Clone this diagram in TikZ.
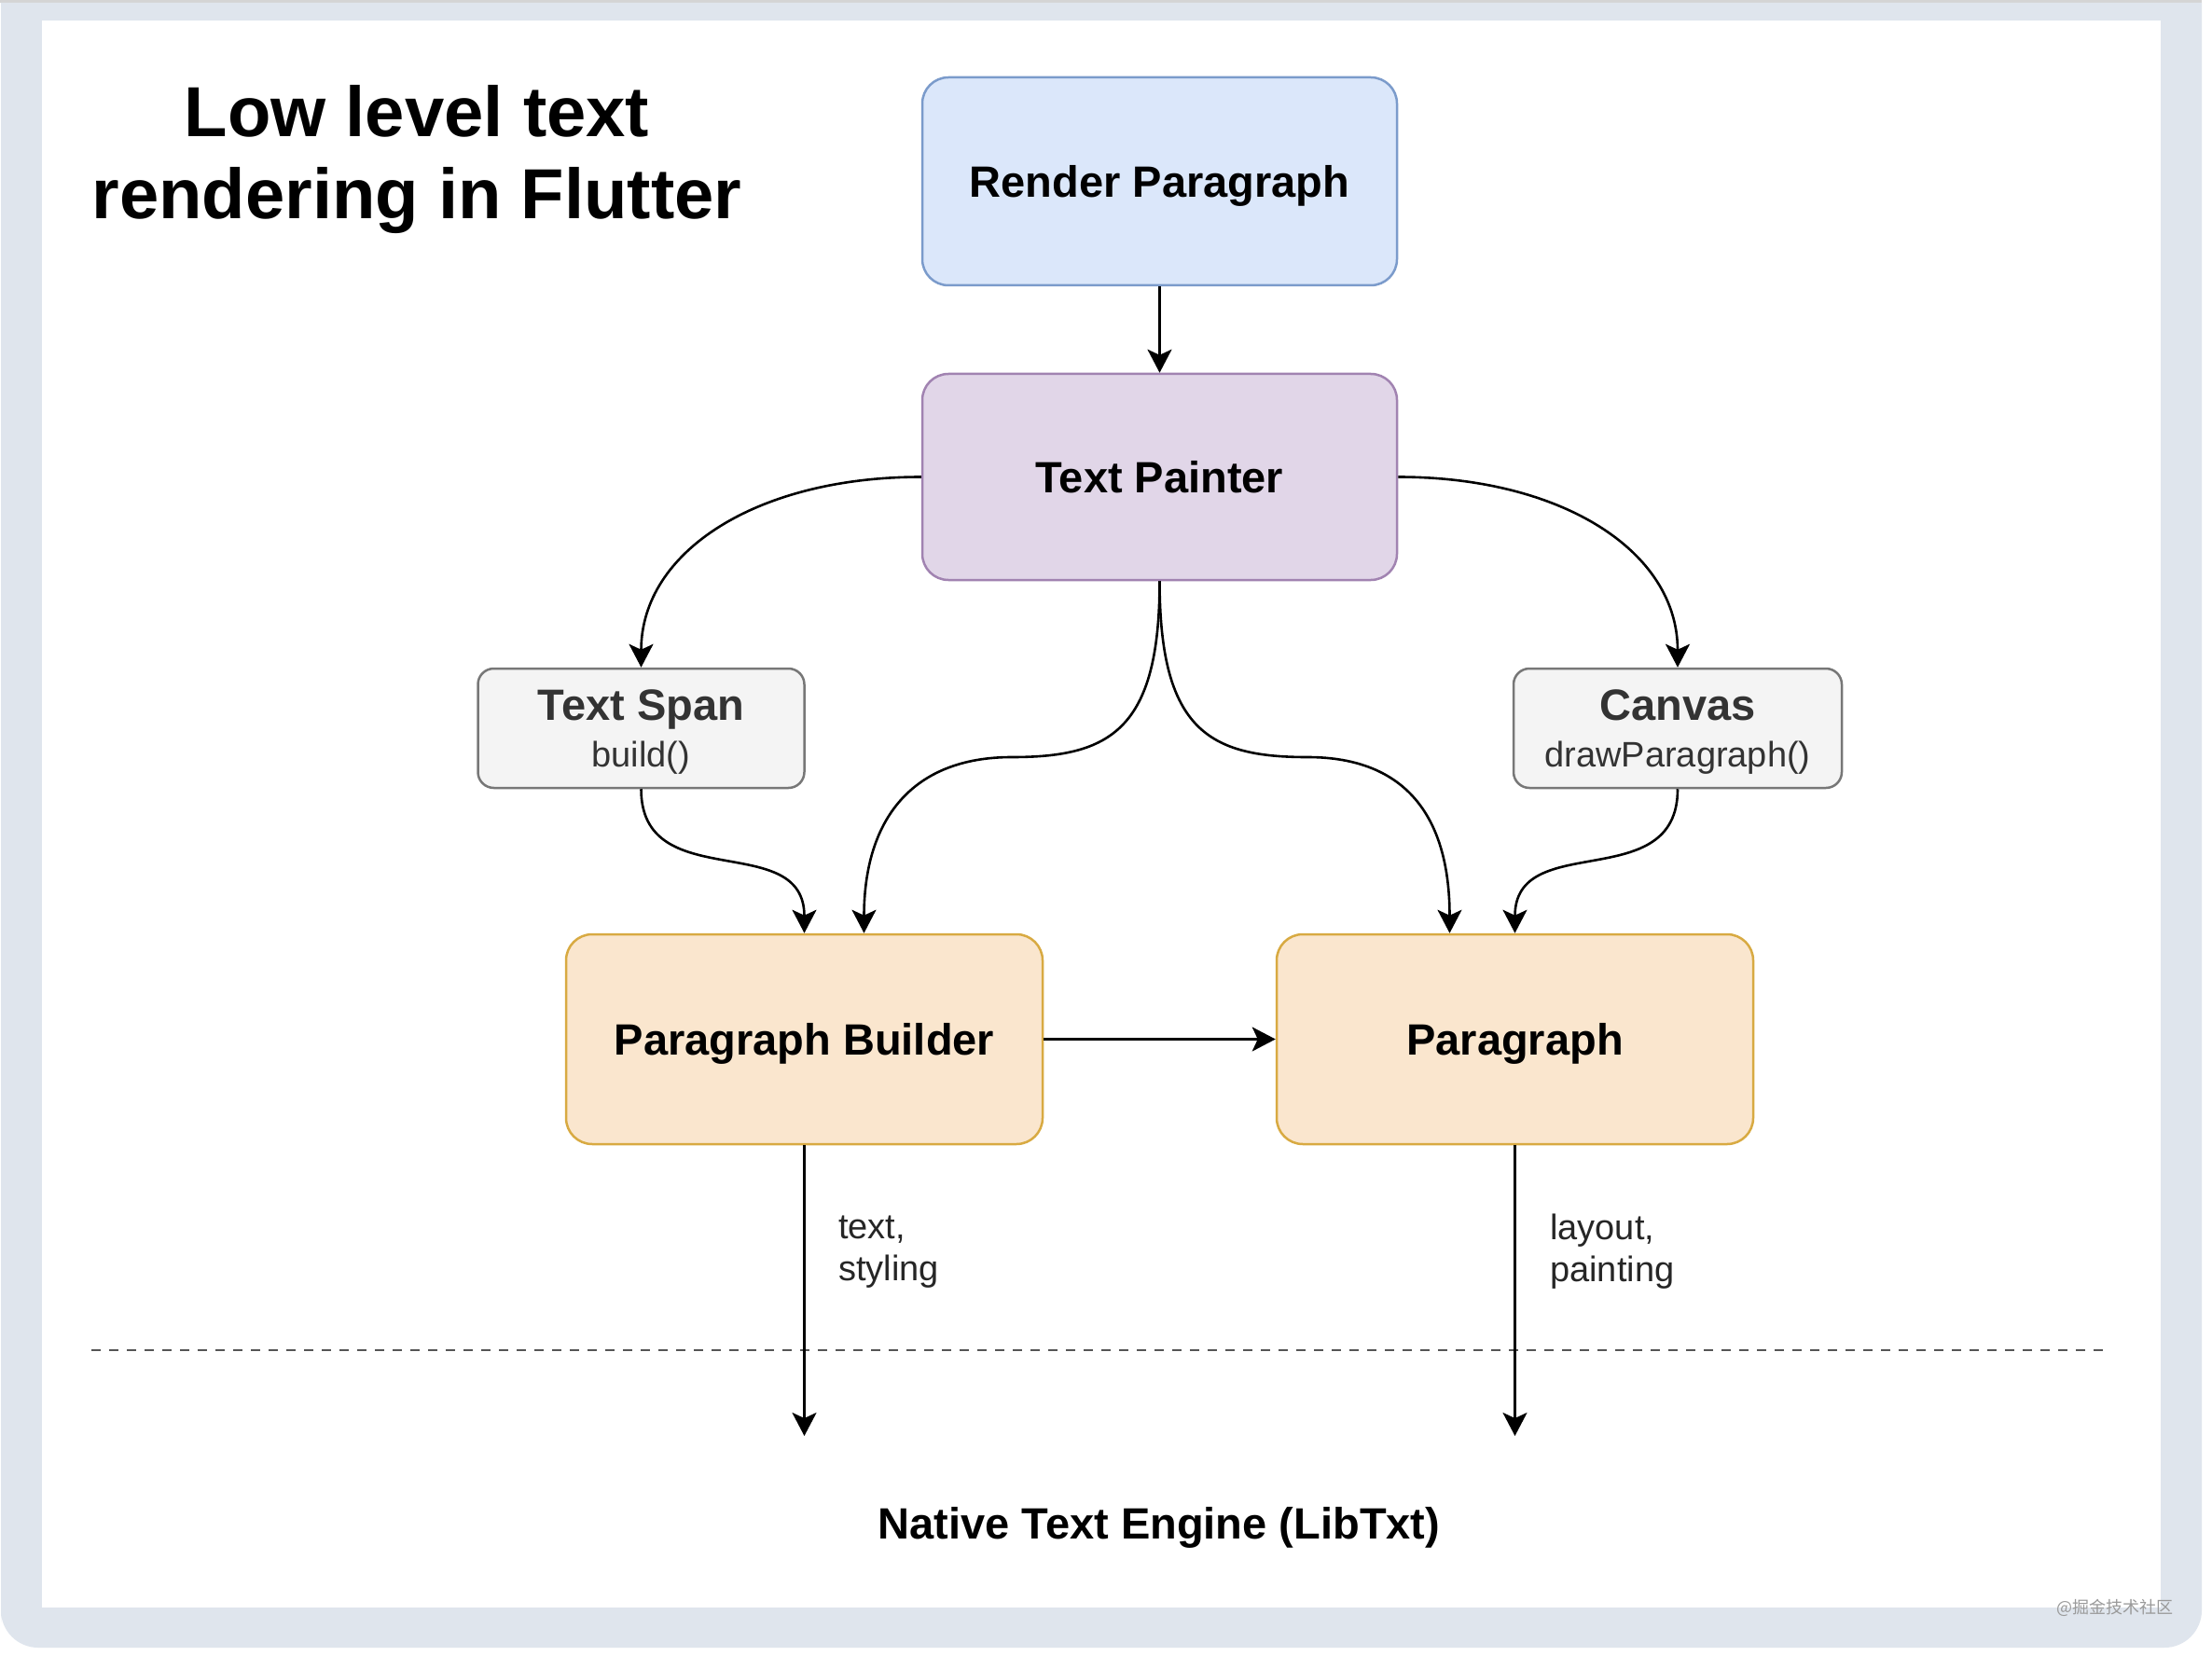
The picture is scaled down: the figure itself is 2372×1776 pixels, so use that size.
\documentclass[tikz,border=0pt]{standalone}
\usepackage{fontspec}
\setmainfont{Liberation Sans}
\newfontfamily\cjkfont{Noto Sans CJK SC}
\usetikzlibrary{arrows.meta,calc}
\definecolor{framec}{HTML}{DFE5ED}
\definecolor{topstrip}{HTML}{D4D4D4}
\definecolor{bluefill}{HTML}{DBE7FA}
\definecolor{bluedraw}{HTML}{7B9BCB}
\definecolor{purplefill}{HTML}{E1D6E8}
\definecolor{purpledraw}{HTML}{A183B1}
\definecolor{grayfill}{HTML}{F4F4F4}
\definecolor{grayline}{HTML}{777777}
\definecolor{darktext}{HTML}{333333}
\definecolor{orangefill}{HTML}{FAE6CE}
\definecolor{orangedraw}{HTML}{D8AA42}
\definecolor{dashc}{HTML}{555555}
\definecolor{wmc}{HTML}{9A9A9A}
\tikzset{
  bigbox/.style={draw, line width=2.5pt, rounded corners=28pt, minimum width=509pt, minimum height=223pt, font=\fontsize{47}{56}\selectfont\bfseries, inner sep=0pt, text depth=0pt},
  smallbox/.style={draw=grayline, fill=grayfill, line width=2.5pt, rounded corners=17pt, minimum width=350pt, minimum height=128pt, text=darktext, font=\fontsize{38}{50}\selectfont, align=center, inner sep=0pt, text depth=0pt},
  conn/.style={line width=2.6pt, -{Stealth[length=25pt,width=26pt,inset=6pt]}},
  lbl/.style={font=\fontsize{38}{45}\selectfont, align=left, anchor=north west, inner sep=0pt, text=black!85},
}
\begin{document}
\begin{tikzpicture}[x=1pt,y=-1pt]
\useasboundingbox (0,0) rectangle (2372,1776);
\fill[white] (0,0) rectangle (2372,1776);
% frame
\fill[topstrip] (0,0) rectangle (2361,3);
\fill[framec] (1,3) -- (2361,3) -- (2361,1700) [rounded corners=40pt] -- (2361,1767) -- (1,1767) -- (1,1700) [sharp corners] -- cycle;
\fill[white] (45,22) rectangle (2317,1724);

% title
\node[font=\fontsize{76}{88}\selectfont\bfseries, align=center, anchor=north, inner sep=0pt] (title) at (447,91) {Low level text\\rendering in Flutter};

% boxes
\node[bigbox, draw=bluedraw, fill=bluefill] (rp) at (1243.5,194.5) {Render Paragraph};
\node[bigbox, draw=purpledraw, fill=purplefill, minimum height=221pt] (tp) at (1243.5,511.5) {Text Painter};
\node[smallbox] (ts) at (687.5,781) {{\fontsize{47}{50}\selectfont\bfseries Text Span}\\build()};
\node[smallbox, minimum width=352pt] (cv) at (1799,781) {{\fontsize{47}{50}\selectfont\bfseries Canvas}\\drawParagraph()};
\node[bigbox, draw=orangedraw, fill=orangefill, minimum width=511pt, minimum height=225pt] (pb) at (862.5,1114.5) {Paragraph Builder};
\node[bigbox, draw=orangedraw, fill=orangefill, minimum width=511pt, minimum height=225pt] (p) at (1624.5,1114.5) {Paragraph};

% helper coordinates
\coordinate (pbin) at ($(pb.north)+(64,0)$);
\coordinate (pin) at ($(p.north)+(-70,0)$);
\coordinate (wl) at (1085,812);
\coordinate (wr) at (1402,812);
\coordinate (pbend) at (862.5,1540);
\coordinate (pend) at (1624.5,1540);
\coordinate (dl) at (98,1448);
\coordinate (dr) at (2262,1448);

% dashed separator
\draw[dashc, line width=2.6pt, dash pattern=on 10pt off 9pt] (dl) -- (dr);

% connectors
\draw[conn] (rp.south) -- (tp.north);
\draw[conn] (tp.west) .. controls +(-175,0) and +(0,-125) .. (ts.north);
\draw[conn] (tp.east) .. controls +(175,0) and +(0,-125) .. (cv.north);
\draw[conn] (tp.south) .. controls +(0,160) and (1190,812) .. (wl) .. controls (978,812) and ($(pbin)+(0,-122)$) .. (pbin);
\draw[conn] (tp.south) .. controls +(0,160) and (1297,812) .. (wr) .. controls (1510,812) and ($(pin)+(0,-122)$) .. (pin);
\draw[conn] (ts.south) .. controls +(0,115) and +(0,-112) .. (pb.north);
\draw[conn] (cv.south) .. controls +(0,115) and +(0,-112) .. (p.north);
\draw[conn] (pb.east) -- (p.west);
\draw[conn] (pb.south) -- (pbend);
\draw[conn] (p.south) -- (pend);

% labels
\node[lbl] (lt) at (899,1304) {text,\\styling};
\node[lbl] (ll) at (1662,1302) {layout,\\painting};
\node[font=\fontsize{47}{56}\selectfont\bfseries, anchor=base, inner sep=0pt] (nte) at (1243,1650) {Native Text Engine (LibTxt)};

% watermark
\node[font=\fontsize{18}{20}\selectfont\cjkfont, text=wmc, inner sep=0pt] (wm) at (2268,1724) {@掘金技术社区};
\end{tikzpicture}
\end{document}
